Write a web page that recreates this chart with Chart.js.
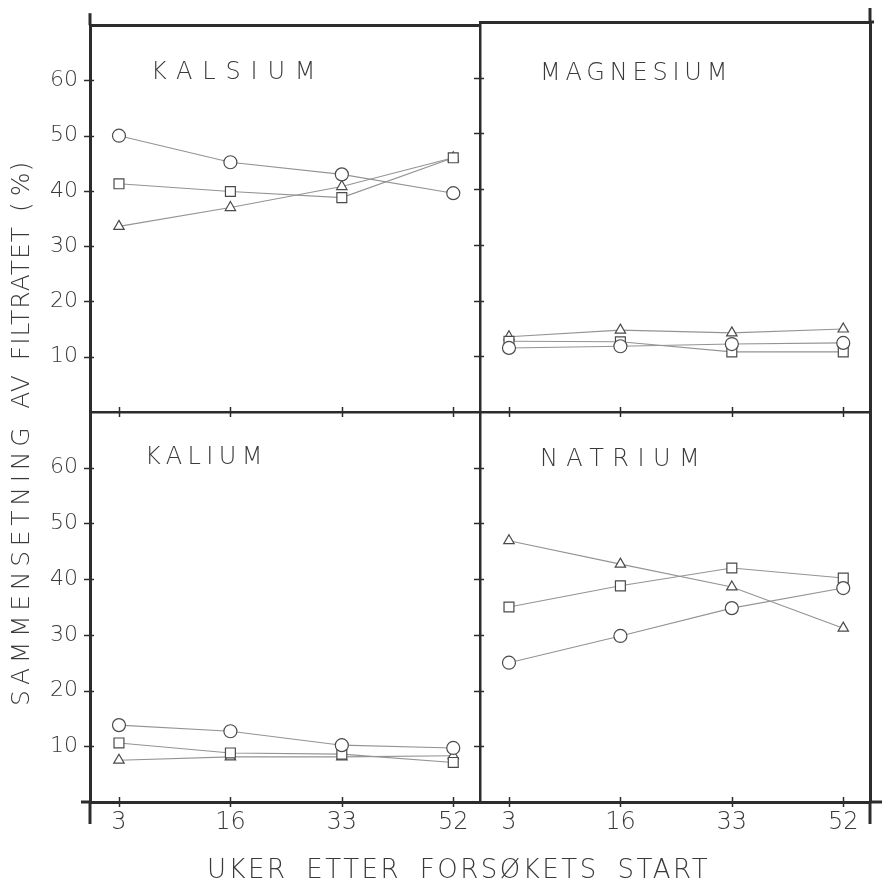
<!DOCTYPE html>
<html>
<head>
<meta charset="utf-8">
<script src="https://cdn.jsdelivr.net/npm/chart.js@4"></script>
<style>
  html, body { margin: 0; padding: 0; background: #fff; }
  #wrap { position: relative; width: 882px; height: 887px; overflow: hidden;
          font-family: "DejaVu Sans", sans-serif; color: #3a3a3a; }
  #wrap canvas { position: absolute; left: 0; top: 0; }
  .lbl { position: absolute; white-space: nowrap; line-height: 1; font-weight: 200; }
  .ytitle { position: absolute; white-space: nowrap; line-height: 1; font-weight: 200;
            transform-origin: 0 0; transform: rotate(-90deg); }
</style>
</head>
<body>
<div id="wrap">
  <canvas id="kalsium" width="882" height="887"></canvas>
  <canvas id="magnesium" width="882" height="887"></canvas>
  <canvas id="kalium" width="882" height="887"></canvas>
  <canvas id="natrium" width="882" height="887"></canvas>

  <div class="lbl" style="left:151px;top:59px;font-size:24px;letter-spacing:9.8px">KALSIUM</div>
  <div class="lbl" style="left:540px;top:60px;font-size:24px;letter-spacing:4.8px">MAGNESIUM</div>
  <div class="lbl" style="left:145px;top:444px;font-size:24px;letter-spacing:5.4px">KALIUM</div>
  <div class="lbl" style="left:540px;top:446px;font-size:24px;letter-spacing:8.4px">NATRIUM</div>

  <div class="lbl" style="left:207px;top:856px;font-size:26px;letter-spacing:2.5px;word-spacing:8px">UKER ETTER FORSØKETS START</div>
  <div class="ytitle" style="left:8px;top:706px;font-size:25px;letter-spacing:1px;word-spacing:5px"><span style="letter-spacing:4.7px">SAMMENSETNING</span> AV FILTRATET <span style="word-spacing:-4px">( %)</span></div>
</div>

<script>
// Weeks after the start of the trial (x categories)
const uker = ['3', '16', '33', '52'];
// Y tick values (% of the filtrate)
const yTicks = [10, 20, 30, 40, 50, 60];

// Composition per ion: circle, square and triangle series
const kalsiumSirkel  = [50.0, 45.2, 43.0, 39.6];
const kalsiumKvadrat = [41.3, 39.9, 38.8, 46.0];
const kalsiumTrekant = [33.6, 37.0, 40.8, 46.0];

const magnesiumSirkel  = [11.5, 11.8, 12.2, 12.4];
const magnesiumKvadrat = [12.7, 12.6, 10.8, 10.8];
const magnesiumTrekant = [13.5, 14.7, 14.2, 14.9];

const kaliumSirkel  = [13.8, 12.7, 10.2, 9.7];
const kaliumKvadrat = [10.6, 8.8, 8.6, 7.1];
const kaliumTrekant = [7.5, 8.1, 8.1, 8.3];

const natriumSirkel  = [25.0, 29.8, 34.8, 38.4];
const natriumKvadrat = [35.0, 38.8, 42.0, 40.2];
const natriumTrekant = [46.9, 42.7, 38.6, 31.2];

const W = 882, H = 887;
const ink = '#2c2c2c';
const textInk = '#3a3a3a';
const markInk = '#4a4a4a';
const lineInk = '#939393';
const fontFamily = '"DejaVu Sans", sans-serif';

function serie(values, style, radius) {
  return {
    data: values.map((v, i) => ({ x: i, y: v })),
    pointStyle: style,
    pointRadius: radius,
    pointBorderColor: markInk,
    pointBackgroundColor: '#fff',
    pointBorderWidth: 1.2,
    borderColor: lineInk,
    borderWidth: 1.1,
    tension: 0,
    fill: false
  };
}

// Tick marks crossing the panel edges, plus the short overhangs of the frame lines
const framePlugin = {
  id: 'frame',
  afterDraw(chart, args, o) {
    const { ctx, chartArea: a, scales } = chart;
    ctx.save();
    ctx.strokeStyle = ink;
    ctx.lineCap = 'butt';
    const seg = (x1, y1, x2, y2, w) => {
      ctx.lineWidth = w;
      ctx.beginPath(); ctx.moveTo(x1, y1); ctx.lineTo(x2, y2); ctx.stroke();
    };
    scales.y.ticks.forEach(t => {
      const py = Math.round(scales.y.getPixelForValue(t.value)) + 0.5;
      seg(a.left - o.yOut, py, a.left + o.yIn, py, 1.5);
    });
    scales.x.ticks.forEach(t => {
      const px = Math.round(scales.x.getPixelForValue(t.value)) + 0.5;
      seg(px, a.bottom - o.xIn, px, a.bottom + o.xOut, 1.5);
    });
    (o.stubs || []).forEach(s => {
      const p = s(a);
      seg(p[0], p[1], p[2], p[3], 3);
    });
    ctx.restore();
  }
};

// Fixed axis box size, so the plot areas of the four panels line up exactly
const fixedSize = size => s => { if (s.isHorizontal()) s.height = size; else s.width = size; };

function panel(id, area, datasets, cfg) {
  const [L, T, R, B] = area;
  const yW = cfg.yLabels ? 80 : 0;
  const xH = cfg.xLabels ? 45 : 0;
  const scales = {
    x: {
      type: 'linear', position: 'bottom', min: -0.26, max: 3.24,
      afterBuildTicks: s => { s.ticks = uker.map((_, i) => ({ value: i })); },
      afterFit: fixedSize(xH),
      grid: { display: false, drawTicks: false },
      border: { display: true, color: ink, width: cfg.xBorder },
      ticks: { display: cfg.xLabels, autoSkip: false, maxRotation: 0, padding: 6,
               color: textInk, font: { family: fontFamily, size: 24, weight: '200' },
               callback: v => uker[v] }
    },
    y: {
      type: 'linear', position: 'left', min: 0, max: 70,
      afterBuildTicks: s => { s.ticks = yTicks.map(v => ({ value: v })); },
      afterFit: fixedSize(yW),
      grid: { display: false, drawTicks: false },
      border: { display: true, color: ink, width: cfg.yBorder },
      ticks: { display: cfg.yLabels, autoSkip: false, padding: 12,
               color: textInk, font: { family: fontFamily, size: 22, weight: '200' } }
    }
  };
  if (cfg.top) {
    scales.xTop = { type: 'linear', position: 'top', afterFit: fixedSize(0),
      grid: { display: false, drawTicks: false }, ticks: { display: false },
      border: { display: true, color: ink, width: 3 } };
  }
  if (cfg.right) {
    scales.yRight = { type: 'linear', position: 'right', afterFit: fixedSize(0),
      grid: { display: false, drawTicks: false }, ticks: { display: false },
      border: { display: true, color: ink, width: 3 } };
  }
  return new Chart(document.getElementById(id), {
    type: 'line',
    data: { datasets },
    options: {
      responsive: false,
      animation: false,
      events: [],
      layout: { padding: { left: L - yW, top: T, right: W - R, bottom: H - B - xH } },
      plugins: {
        legend: { display: false },
        tooltip: { enabled: false },
        frame: { yOut: 6, yIn: 4, xOut: 5, xIn: 5, stubs: cfg.stubs }
      },
      scales
    },
    plugins: [framePlugin]
  });
}

const edgeLeft = 90, edgeMid = 480, edgeRight = 870;
const edgeTop = 22, edgeMidY = 412, edgeBottom = 802;

panel('kalsium', [edgeLeft, edgeTop, edgeMid, edgeMidY],
  [serie(kalsiumSirkel, 'circle', 6.5), serie(kalsiumKvadrat, 'rect', 7), serie(kalsiumTrekant, 'triangle', 6)],
  { xLabels: false, yLabels: true, xBorder: 2.5, yBorder: 3, top: true,
    stubs: [a => [a.left, a.top - 12, a.left, a.top]] });

panel('magnesium', [edgeMid, edgeTop, edgeRight, edgeMidY],
  [serie(magnesiumSirkel, 'circle', 6.5), serie(magnesiumKvadrat, 'rect', 7), serie(magnesiumTrekant, 'triangle', 6)],
  { xLabels: false, yLabels: false, xBorder: 2.5, yBorder: 2.5, top: true, right: true,
    stubs: [a => [a.right, a.top - 14, a.right, a.top], a => [a.right, a.top, a.right + 4, a.top]] });

panel('kalium', [edgeLeft, edgeMidY, edgeMid, edgeBottom],
  [serie(kaliumSirkel, 'circle', 6.5), serie(kaliumKvadrat, 'rect', 7), serie(kaliumTrekant, 'triangle', 6)],
  { xLabels: true, yLabels: true, xBorder: 3, yBorder: 3,
    stubs: [a => [a.left, a.bottom, a.left, a.bottom + 22], a => [a.left - 9, a.bottom, a.left, a.bottom]] });

panel('natrium', [edgeMid, edgeMidY, edgeRight, edgeBottom],
  [serie(natriumSirkel, 'circle', 6.5), serie(natriumKvadrat, 'rect', 7), serie(natriumTrekant, 'triangle', 6)],
  { xLabels: true, yLabels: false, xBorder: 3, yBorder: 2.5, right: true,
    stubs: [a => [a.right, a.bottom, a.right, a.bottom + 22], a => [a.right, a.bottom, a.right + 12, a.bottom]] });
</script>
</body>
</html>
